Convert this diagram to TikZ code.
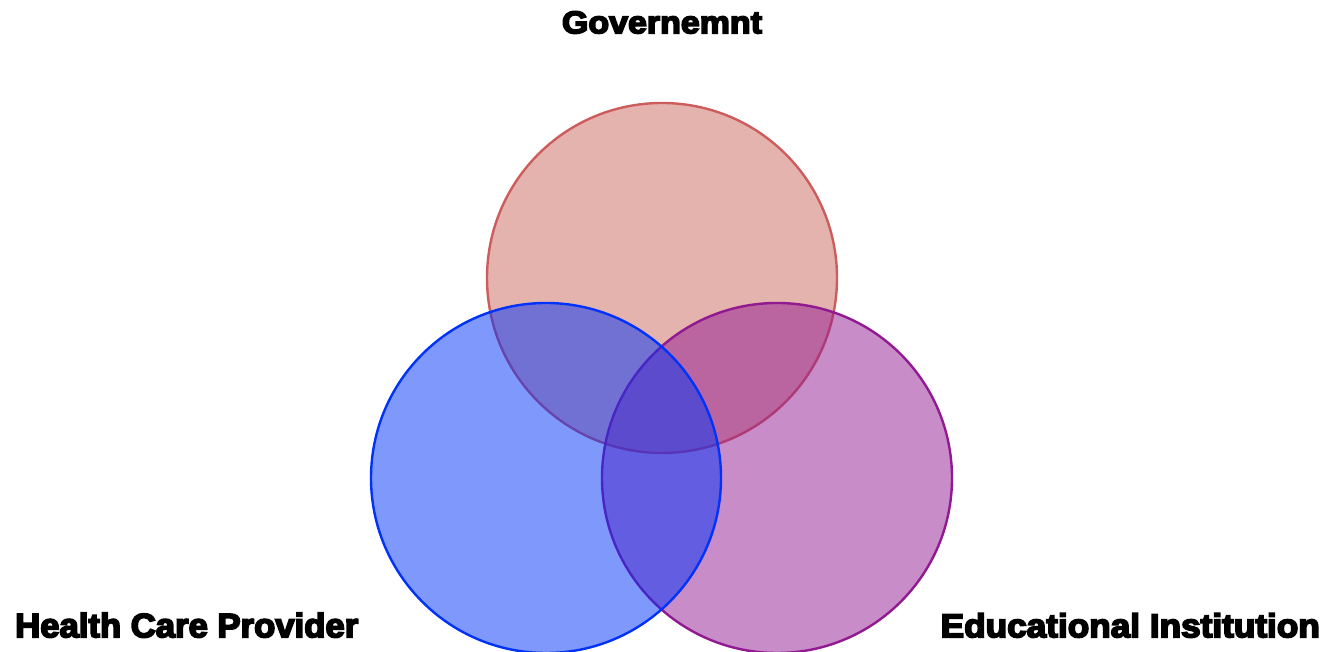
\documentclass[tikz,border=0pt]{standalone}
\usepackage{fontspec}
\setmainfont{Liberation Sans}[BoldFeatures={FakeBold=5}]
\usepackage{graphicx}
\usepackage{xcolor}
\usepackage{tikz}

\definecolor{govred}{RGB}{203,103,93}
\definecolor{govline}{RGB}{205,92,92}
\definecolor{hcblue}{RGB}{0,50,250}
\definecolor{edupurple}{RGB}{145,25,145}

\begin{document}
\begin{tikzpicture}[x=1pt,y=1pt,
  set/.style={circle,minimum size=350pt,inner sep=0pt,line width=2.4pt,fill opacity=0.5},
  lbl/.style={inner sep=0pt,font=\bfseries}]
  \useasboundingbox (0,0) rectangle (1327,652);
  % Venn sets, drawn back to front
  \node[set,draw=govline,fill=govred]       (gov) at (662,374) {};
  \node[set,draw=edupurple,fill=edupurple]  (edu) at (777,174) {};
  \node[set,draw=hcblue,fill=hcblue]        (hc)  at (546,174) {};
  % Labels
  \node[lbl,anchor=base]      (govlbl) at (662,618.7) {\resizebox{200pt}{22pt}{Governemnt}};
  \node[lbl,anchor=base west] (hclbl)  at (15,14.7)   {\resizebox{343pt}{24.5pt}{Health Care Provider}};
  \node[lbl,anchor=base east] (edulbl) at (1320,14.7) {\resizebox{379pt}{24pt}{Educational Institution}};
\end{tikzpicture}
\end{document}
